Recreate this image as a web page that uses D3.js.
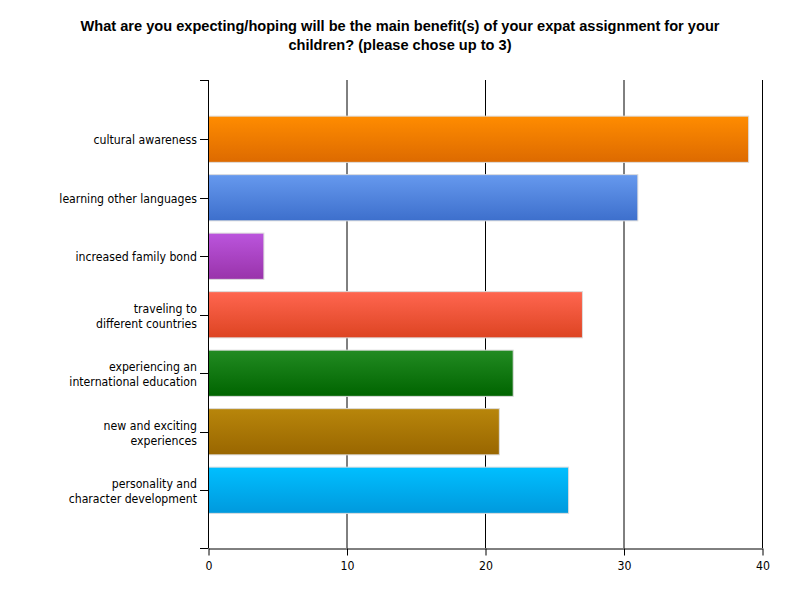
<!DOCTYPE html>
<html><head><meta charset="utf-8">
<script src="https://cdn.jsdelivr.net/npm/d3@7"></script>
<style>body{margin:0;background:#fff}</style>
</head><body>
<script>
const categories = [
  ["cultural awareness"],
  ["learning other languages"],
  ["increased family bond"],
  ["traveling to","different countries"],
  ["experiencing an","international education"],
  ["new and exciting","experiences"],
  ["personality and","character development"]
];
const values = [39, 31, 4, 27, 22, 21, 26];
const colorsTop = ["#ff8c00","#6699ee","#bb55dd","#ff6650","#228b22","#b8860b","#00bfff"];
const colorsBottom = ["#dd6a00","#3d6fcc","#9933aa","#dd4422","#006400","#996600","#0099dd"];
const xTicks = [0,10,20,30,40];
const title = ["What are you expecting/hoping will be the main benefit(s) of your expat assignment for your","children? (please chose up to 3)"];

const W=800,H=600;
const labelFont="DejaVu Sans Condensed, DejaVu Sans, sans-serif";
const svg=d3.select("body").append("svg").attr("width",W).attr("height",H);
const defs=svg.append("defs");
values.forEach((v,i)=>{
  const g=defs.append("linearGradient").attr("id","g"+i).attr("x1",0).attr("y1",0).attr("x2",0).attr("y2",1);
  g.append("stop").attr("offset","0%").attr("stop-color",colorsTop[i]);
  g.append("stop").attr("offset","100%").attr("stop-color",colorsBottom[i]);
});
const x=d3.scaleLinear().domain([0,40]).range([208.5,762.5]);
const y=d3.scaleBand().domain(d3.range(categories.length)).range([110,519.5]).paddingInner(0.21).paddingOuter(0.105);
const yTop=80,yBottom=548;

// grid
svg.append("g").selectAll("line").data(xTicks.slice(1)).join("line")
  .attr("x1",d=>x(d)).attr("x2",d=>x(d)).attr("y1",yTop).attr("y2",yBottom)
  .attr("stroke","#000").attr("stroke-width",1);

// bars
svg.append("g").selectAll("rect").data(values).join("rect")
  .attr("x",x(0)).attr("y",(d,i)=>y(i)).attr("width",d=>x(d)-x(0)).attr("height",y.bandwidth())
  .attr("fill",(d,i)=>`url(#g${i})`).attr("stroke","#dcdcdc").attr("stroke-width",1);

// left axis
svg.append("line").attr("x1",x(0)).attr("x2",x(0)).attr("y1",yTop).attr("y2",yBottom).attr("stroke","#000");
svg.append("line").attr("x1",200).attr("x2",x(0)).attr("y1",yTop+0.5).attr("y2",yTop+0.5).attr("stroke","#000");
svg.append("line").attr("x1",200).attr("x2",x(0)).attr("y1",yBottom+0.5).attr("y2",yBottom+0.5).attr("stroke","#000");
const lab=svg.append("g");
categories.forEach((c,i)=>{
  const cy=Math.round(y(i)+y.bandwidth()/2)+0.5;
  lab.append("line").attr("x1",200).attr("x2",x(0)).attr("y1",cy).attr("y2",cy).attr("stroke","#000");
  const t=lab.append("text").attr("x",197).attr("text-anchor","end")
    .attr("font-family",labelFont).attr("font-size",12.2).attr("fill","#000");
  const lh=15, y0=cy+4.5 - (c.length-1)*lh/2;
  c.forEach((s,k)=>t.append("tspan").attr("x",197).attr("y",y0+k*lh).text(s));
});
// bottom axis
const ax=svg.append("g").attr("transform",`translate(0,${yBottom+0.5})`)
  .call(d3.axisBottom(x).tickValues(xTicks).tickSize(7).tickSizeOuter(0).tickFormat(d3.format("d")));
ax.select(".domain").attr("stroke","#000");
ax.selectAll("text").attr("font-family",labelFont).attr("font-size",12.2).attr("fill","#000").attr("dy","0.95em");
// title
const tt=svg.append("text").attr("text-anchor","middle").attr("font-family","Liberation Sans, Arial, sans-serif")
  .attr("font-weight","bold").attr("font-size",14.6);
title.forEach((s,k)=>tt.append("tspan").attr("x",400).attr("y",31+k*19).text(s));
</script>
</body></html>
